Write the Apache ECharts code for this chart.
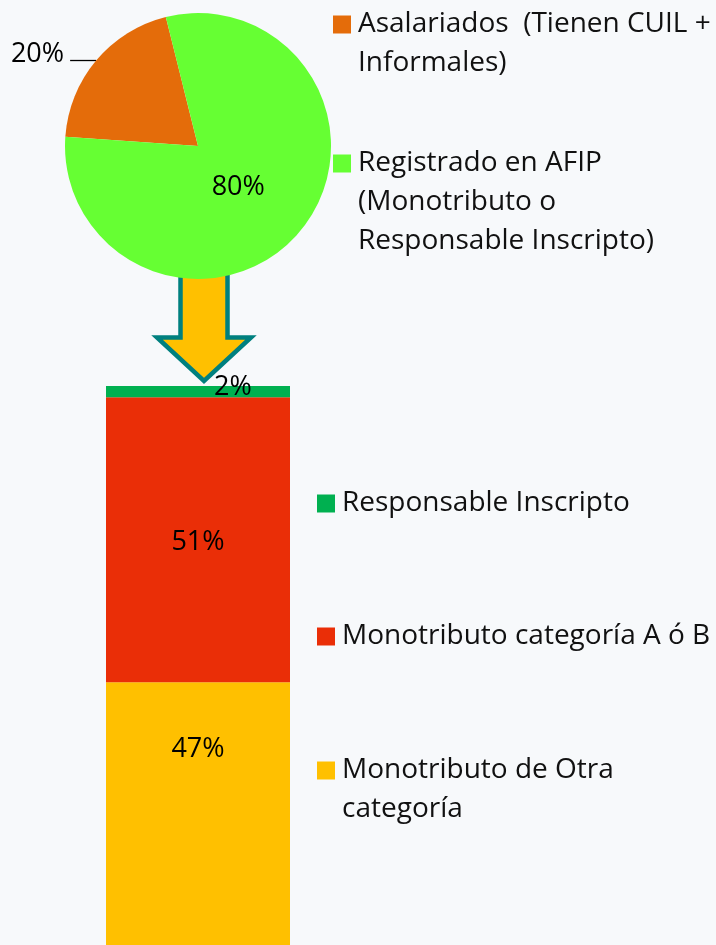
<!DOCTYPE html>
<html>
<head>
<meta charset="utf-8">
<script src="https://cdn.jsdelivr.net/npm/echarts@6/dist/echarts.min.js"></script>
<style>
html,body{margin:0;padding:0;background:#f7f9fb;}
#main{width:716px;height:945px;}
</style>
</head>
<body>
<div id="main"></div>
<script>
// datos
var pieNames = ['Asalariados  (Tienen CUIL + Informales)', 'Registrado en AFIP (Monotributo o Responsable Inscripto)'];
var pieValues = [20, 80];
var barNames = ['Monotributo de Otra categoría', 'Monotributo categoría A ó B', 'Responsable Inscripto'];
var barValues = [47, 51, 2];
var barCategory = ['Registrado'];

// textos de la leyenda partidos en lineas
var legendLines = {};
legendLines[pieNames[0]] = ['Asalariados  (Tienen CUIL +', 'Informales)'];
legendLines[pieNames[1]] = ['Registrado en AFIP', '(Monotributo o', 'Responsable Inscripto)'];
legendLines[barNames[0]] = ['Monotributo de Otra', 'categoría'];
legendLines[barNames[1]] = ['Monotributo categoría A ó B'];
legendLines[barNames[2]] = ['Responsable Inscripto'];

var pieColors = ['#E46C0A', '#66FF33'];
var barColors = ['#FFC000', '#EA2E07', '#00B050'];
var FONT = 'Open Sans';
var LH = 39;
var ICON = 18;

function makeLegend(name, left, iconTop){
    var lines = legendLines[name];
    var n = lines.length;
    var T = (2 * n - 1) * LH;
    // lineas vacias arriba para que el cuadrado quede en la primera linea
    var txt = [];
    for(var k = 1; k < n; k++) txt.push('{t| }');
    lines.forEach(function(l){ txt.push('{t|' + l + '}'); });
    return {
        data: [name],
        left: left,
        top: iconTop + 7 - (T - ICON) / 2,
        padding: 0,
        itemWidth: ICON,
        itemHeight: ICON,
        icon: 'rect',
        selectedMode: false,
        formatter: function(){ return txt.join('\n'); },
        textStyle: {
            color: '#111',
            rich: {
                t: { fontFamily: FONT, fontSize: 28, color: '#111', lineHeight: LH, padding: [0, 0, 0, 2] }
            }
        }
    };
}

var chart = echarts.init(document.getElementById('main'));
var barSeries = barNames.map(function(nm, i){
    var lbl = { show: true, formatter: '{c}%', fontFamily: FONT, fontSize: 27, color: '#000' };
    if(i == 0){
        lbl.position = ['50%', 67];
        lbl.align = 'center';
        lbl.verticalAlign = 'middle';
    }else if(i == 2){
        lbl.position = 'inside';
        lbl.offset = [35, -4];
    }else{
        lbl.position = 'inside';
        lbl.offset = [0, 3];
    }
    return {
        name: nm,
        type: 'bar',
        stack: 'total',
        barWidth: '100%',
        data: [barValues[i]],
        itemStyle: { color: barColors[i] },
        label: lbl,
        z: 3
    };
});

chart.setOption({
    backgroundColor: '#f7f9fb',
    animation: false,
    legend: [
        makeLegend(pieNames[0], 333, 14),
        makeLegend(pieNames[1], 333, 153),
        makeLegend(barNames[2], 317, 493),
        makeLegend(barNames[1], 317, 626),
        makeLegend(barNames[0], 317, 760)
    ],
    grid: { left: 106, width: 184, top: 386, bottom: 0 },
    xAxis: { type: 'category', data: barCategory, show: false },
    yAxis: { type: 'value', min: 0, max: 100, show: false },
    graphic: [{
        type: 'polygon',
        z: 1,
        shape: { points: [[180.5,250],[227.5,250],[227.5,337.5],[251,337.5],[204,381],[157,337.5],[180.5,337.5]] },
        style: { fill: '#FFC000', stroke: '#00807F', lineWidth: 4.5, lineJoin: 'miter' }
    }],
    series: [{
        type: 'pie',
        center: [198, 146],
        radius: 133,
        startAngle: 176,
        clockwise: true,
        z: 5,
        bleedMargin: 0,
        data: pieNames.map(function(nm, i){
            var d = { name: nm, value: pieValues[i], itemStyle: { color: pieColors[i] } };
            if(i == 0){
                d.label = { position: 'outside', distanceToLabelLine: 7, offset: [1, -6], overflow: 'none' };
                d.labelLine = { show: true, length: 0, length2: 26, lineStyle: { color: '#000', width: 1.3 } };
            }else{
                d.label = { position: 'inside', offset: [-13, -3] };
            }
            return d;
        }),
        label: { formatter: '{c}%', fontFamily: FONT, fontSize: 27, color: '#000' },
        emphasis: { disabled: true }
    }].concat(barSeries)
});
</script>
</body>
</html>
